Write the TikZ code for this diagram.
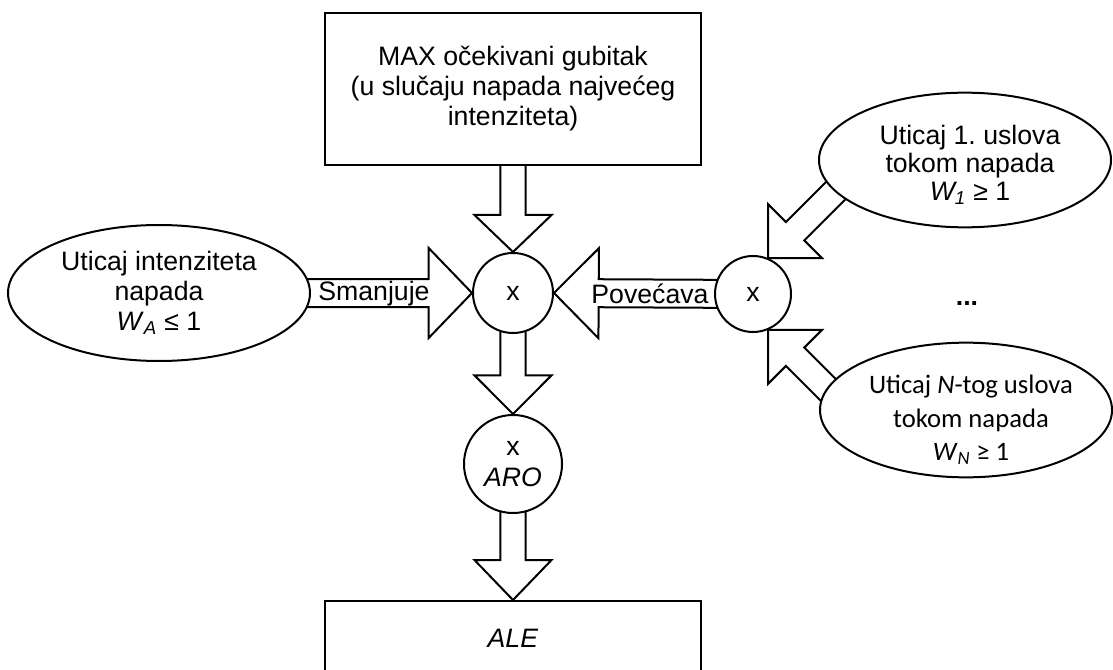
\documentclass[tikz,border=0pt]{standalone}
\usepackage{fontspec}
\setmainfont{Liberation Sans}
\newfontfamily\calibrifont{Carlito}
\usetikzlibrary{shapes.geometric,calc,backgrounds}
\frenchspacing

% Block arrow: #1 start, #2 tip, #3 shaft half-width, #4 head half-width, #5 head length
\newcommand{\blockarrow}[5]{%
  \path coordinate (ba-h) at ($(#2)!#5!(#1)$);
  \draw[fatarrow] ($(#1)!#3!90:(#2)$) -- ($(ba-h)!#3!90:(#2)$) -- ($(ba-h)!#4!90:(#2)$)
    -- (#2) -- ($(ba-h)!#4!-90:(#2)$) -- ($(ba-h)!#3!-90:(#2)$) -- ($(#1)!#3!-90:(#2)$) -- cycle;
}

\begin{document}
\begin{tikzpicture}[x=0.75pt,y=-0.75pt,
  every node/.style={font=\fontsize{20pt}{22.5pt}\selectfont, line width=1.5pt, align=center},
  box/.style={draw, fill=white, rectangle, inner sep=0pt, minimum width=282pt},
  oval/.style={draw, fill=white, ellipse, inner sep=0pt},
  disc/.style={draw, fill=white, circle, inner sep=0pt},
  fatarrow/.style={draw, fill=white, line width=1.5pt, line join=miter},
  flowlabel/.style={inner sep=0pt}]

\useasboundingbox (0,0) rectangle (1113,670);
\clip (0,0) rectangle (1113,670);

% boxes
\node[box, minimum height=114pt] (maxbox) at (513,89)
  {MAX očekivani gubitak\\(u slučaju napada najvećeg\\intenziteta)};
\node[box, minimum height=56pt, anchor=north] (ale) at (513,600) {\textit{ALE}};

% multiplication nodes
\node[disc, minimum size=60pt] (c) at (513,293) {x};
\node[disc, minimum size=73.5pt, font=\fontsize{20pt}{23pt}\selectfont] (aro) at (513,464) {x\\\textit{ARO}};
\node[disc, minimum size=57pt] (rc) at (753,294) {x};

% influence factors
\node[oval, minimum width=226.5pt, minimum height=102pt] (wa) at (159,293)
  {Uticaj intenziteta\\napada\\\textit{W}\textsubscript{\textit{A}} ≤ 1};
\node[oval, minimum width=219pt, minimum height=101pt] (w1) at (965,160) {};
\node[font=\fontsize{20pt}{21pt}\selectfont] (w1-text) at (970,165)
  {Uticaj 1. uslova\\tokom napada\\\textit{W\textsubscript{1}} ≥ 1};
\node[oval, minimum width=219pt, minimum height=101pt] (wn) at (966,410) {};
\node[font=\calibrifont\fontsize{20pt}{25pt}\selectfont] (wn-text) at (971,420)
  {Uticaj \textit{N}-tog uslova\\tokom napada\\\textit{W}\textsubscript{\textit{N}} ≥ 1};
\node[font=\bfseries\fontsize{20pt}{22.5pt}\selectfont] (dots) at (967,304) {...};

% arrow labels
\node[flowlabel] (smanjuje) at (374,294) {Smanjuje};
\node[flowlabel] (povecava) at (650,294) {Povećava};

% block arrows, kept beneath the nodes
\coordinate (d1) at ($(rc.67)+(100,-100)$);
\coordinate (dn) at ($(rc.-67)+(100,100)$);
\begin{scope}[on background layer]
  \blockarrow{maxbox.center}{c.north}{9.4pt}{28.9pt}{27.75pt}
  \blockarrow{c.center}{aro.north}{9.4pt}{28.9pt}{29pt}
  \blockarrow{aro.center}{ale.north}{9.4pt}{28.9pt}{30pt}
  \blockarrow{wa.center}{c.west}{10.5pt}{33.75pt}{32.5pt}
  \blockarrow{rc.center}{c.east}{10.5pt}{33.75pt}{33.5pt}
  \blockarrow{d1}{rc.67}{9.75pt}{28.5pt}{28.5pt}
  \blockarrow{dn}{rc.-67}{9.75pt}{28.5pt}{28.5pt}
\end{scope}
\end{tikzpicture}
\end{document}
